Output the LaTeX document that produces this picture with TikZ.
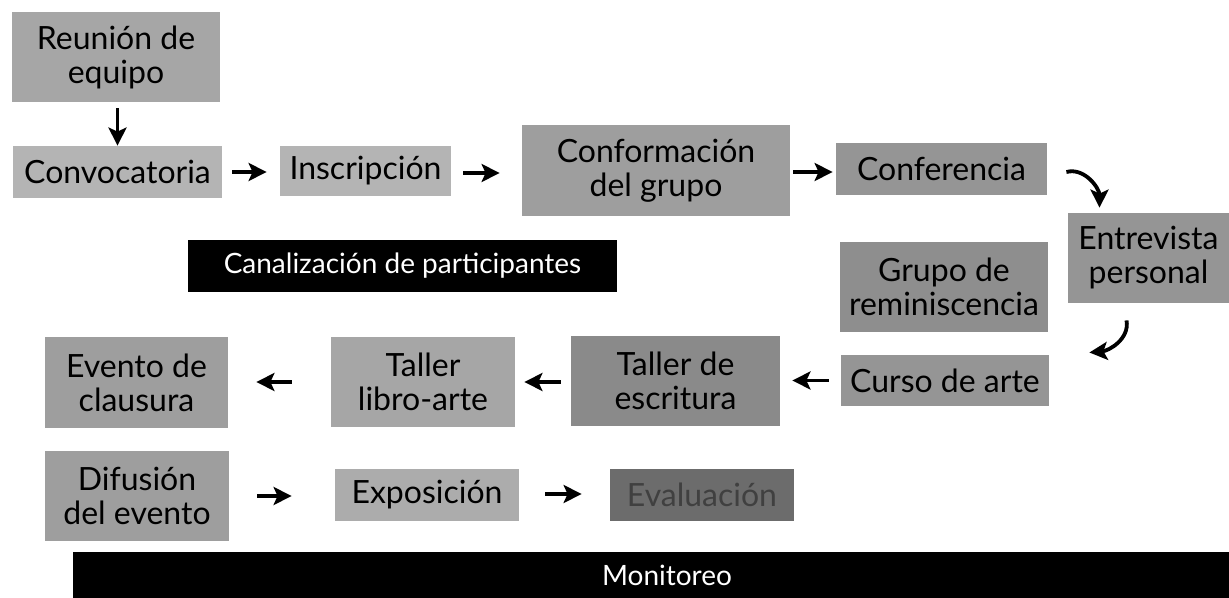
\documentclass[tikz,border=0pt]{standalone}
\usepackage{fontspec}
\setmainfont{Lato}
\usetikzlibrary{arrows.meta,calc}
\definecolor{gA}{HTML}{A6A6A6}
\definecolor{gB}{HTML}{B4B4B4}
\definecolor{gC}{HTML}{9E9E9E}
\definecolor{gD}{HTML}{959595}
\definecolor{gE}{HTML}{8E8E8E}
\definecolor{gF}{HTML}{8A8A8A}
\definecolor{gG}{HTML}{ACACAC}
\definecolor{gH}{HTML}{6C6C6C}
\tikzset{
  box/.style={fill=#1, inner sep=0pt, align=center, text=black,
    font=\fontsize{16}{17}\selectfont},
  bar/.style={fill=black, inner sep=0pt, text=white,
    font=\fontsize{14}{16}\selectfont},
  arr/.style={line width=1.9pt, -{Stealth[length=9pt,width=9pt,inset=2pt]}},
}
\begin{document}
\begin{tikzpicture}[x=0.5pt,y=-0.5pt]
\useasboundingbox (0,0) rectangle (1229,598);
% top row
\node[box=gA, minimum width=104pt, minimum height=45pt] (R) at (116,57) {Reunión de\\equipo};
\node[box=gB, minimum width=104.5pt, minimum height=26pt] (Cv) at (117.5,172) {Convocatoria};
\node[box=gB, minimum width=85.5pt, minimum height=25pt] (In) at (365.5,171) {Inscripción};
\node[box=gC, minimum width=134pt, minimum height=45.5pt] (Cf) at (656,170.5) {Conformación\\del grupo};
\node[box=gD, minimum width=105.5pt, minimum height=26pt] (Co) at (941.5,169) {Conferencia};
\node[box=gD, minimum width=80.5pt, minimum height=45pt] (En) at (1148.5,258) {Entrevista\\personal};
\node[box=gE, minimum width=104pt, minimum height=45pt] (Gr) at (944,287) {Grupo de\\reminiscencia};
\node[box=gD, minimum width=104pt, minimum height=25.5pt] (Cu) at (945,380.5) {Curso de arte};
\node[box=gF, minimum width=104.5pt, minimum height=45pt] (Te) at (675.5,381) {Taller de\\escritura};
\node[box=gA, minimum width=92pt, minimum height=45pt] (Tl) at (423,382) {Taller\\libro-arte};
\node[box=gC, minimum width=91.5pt, minimum height=45.5pt] (Ev) at (136.5,382.5) {Evento de\\clausura};
\node[box=gC, minimum width=92pt, minimum height=45pt] (Di) at (137,496) {Difusión\\del evento};
\node[box=gG, minimum width=92pt, minimum height=26pt] (Ex) at (427,495) {Exposición};
\node[box=gH, minimum width=92pt, minimum height=26pt, text=black!75] (Ea) at (702,495) {Evaluación};
% bars
\node[bar, minimum width=214.5pt, minimum height=26pt] (Ca) at (402.5,266) {Canalización de participantes};
\node[bar, minimum width=578pt, minimum height=23pt] (Mo) at (651,575) {\hspace*{16pt}Monitoreo};
% arrows
\draw[arr, shorten <=3pt] (R.south -| Cv.north) -- (Cv.north);
\draw[arr, shorten <=5pt, shorten >=6.5pt] (Cv.east) -- (Cv.east -| In.west);
\draw[arr, shorten <=6pt, shorten >=11pt] ($(In.east)+(0,2)$) -- ($(In.east -| Cf.west)+(0,2)$);
\draw[arr, shorten <=1.5pt, shorten >=1.5pt] ($(Cf.east)+(0,1.5)$) -- ($(Cf.east -| Co.west)+(0,1.5)$);
\coordinate (c1) at ($(Co.east)+(19,3)$);
\coordinate (c2) at ($(En.north)+(-49,-5)$);
\draw[arr] (c1) to[out=15, in=90] (c2);
\coordinate (c3) at ($(En.south)+(-22,17)$);
\coordinate (c4) at ($(Cu.east)+(40,-28)$);
\draw[arr] (c3) to[out=-80, in=5] (c4);
\draw[arr, shorten <=6pt, shorten >=6pt] (Cu.west) -- (Cu.west -| Te.east);
\draw[arr, shorten <=5pt, shorten >=4.5pt] ($(Te.west)+(0,1)$) -- ($(Te.west -| Tl.east)+(0,1)$);
\draw[arr, shorten <=19.5pt, shorten >=14pt] (Tl.west) -- (Tl.west -| Ev.east);
\draw[arr, shorten <=14pt, shorten >=21.5pt] (Di.east) -- (Di.east -| Ex.west);
\draw[arr, shorten <=13pt, shorten >=14pt] ($(Ex.east)+(0,-1)$) -- ($(Ex.east -| Ea.west)+(0,-1)$);
\end{tikzpicture}
\end{document}
